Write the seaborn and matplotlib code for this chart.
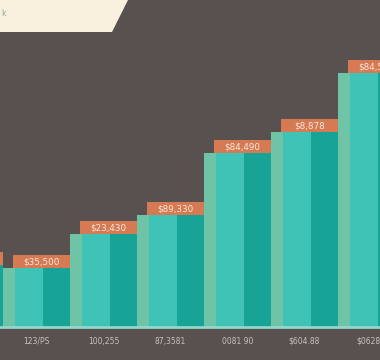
import numpy as np
import pandas as pd
import matplotlib
matplotlib.use("Agg")
import matplotlib.pyplot as plt
from matplotlib.patches import Polygon
import seaborn as sns

# ---- data ----
categories = ["Q0", "123/PS", "100,255", "87,3581", "0081 90", "$604.88", "$06288"]
values = [6.2, 5.9, 9.3, 11.2, 17.4, 19.5, 25.4]          # thousands of $
value_labels = ["$36,840", "$35,500", "$23,430", "$89,330", "$84,490", "$8,878", "$84,550"]
parts = ["edge", "face", "side"]

# ---- style ----
BG = "#585150"
PART_COLORS = ["#6fc4a7", "#3ec3b6", "#17a396"]
ORANGE = "#d57a53"
BANNER = "#f8f0dc"
AXIS_LINE = "#8fd8cb"
TICK_COLOR = "#c9c1be"

sns.set_style("dark", {"axes.facecolor": BG, "figure.facecolor": BG})
plt.rcParams["font.family"] = ["DejaVu Sans"]

df = pd.DataFrame(
    [(c, p, v) for c, v in zip(categories, values) for p in parts],
    columns=["category", "part", "value"],
)

fig = plt.figure(figsize=(3.8, 3.6), dpi=100)
fig.patch.set_facecolor(BG)
ax = fig.add_axes([0, 33 / 360, 1, 327 / 360])
ax.set_facecolor(BG)

sns.barplot(data=df, x="category", y="value", hue="part", hue_order=parts,
            palette=PART_COLORS, width=1.0, saturation=1, ax=ax,
            legend=False, linewidth=0, errorbar=None)

# shape the three faces of each column
fracs = {"edge": (0.0, 0.18), "face": (0.18, 0.60), "side": (0.60, 1.0)}
for container, part in zip(ax.containers, parts):
    a, b = fracs[part]
    for i, bar in enumerate(container):
        bar.set_x(i - 0.5 + a)
        bar.set_width(b - a)

# value label boxes on top of each column
pos = np.arange(len(categories))
box_h = 1.3
ax.bar(pos + 0.075, [box_h] * len(values), bottom=values, width=0.85,
       color=ORANGE, linewidth=0, zorder=3)
for x, v, lab in zip(pos, values, value_labels):
    ax.text(x + 0.075, v + box_h / 2, lab, ha="center", va="center",
            color="#f7e8dc", fontsize=6.3, zorder=4, clip_on=True)

ax.set_xlabel("")
ax.set_ylabel("")
ax.set_yticks([])
ax.set_xticks(pos)
ax.set_xticklabels(categories)
ax.set_xlim(0.455, 6.13)
ax.set_ylim(0, 32.7)
ax.tick_params(axis="x", colors=TICK_COLOR, labelsize=5.5, length=0, pad=7)
for s in ["top", "left", "right"]:
    ax.spines[s].set_visible(False)
ax.spines["bottom"].set_color(AXIS_LINE)
ax.spines["bottom"].set_linewidth(2)
ax.grid(False)

# title banner (cut off at top-left)
W, H = 380, 360
banner = Polygon([(0, 1), (128 / W, 1), (112 / W, 1 - 32 / H), (0, 1 - 32 / H)],
                 closed=True, transform=fig.transFigure, facecolor=BANNER,
                 edgecolor="none", zorder=5)
fig.patches.append(banner)
fig.text(1 / W, 1 - 13 / H, "k", fontsize=5.5, color="#9aa89c",
         va="center", ha="left", zorder=6)

fig.savefig("out.png", dpi=100, facecolor=BG)
